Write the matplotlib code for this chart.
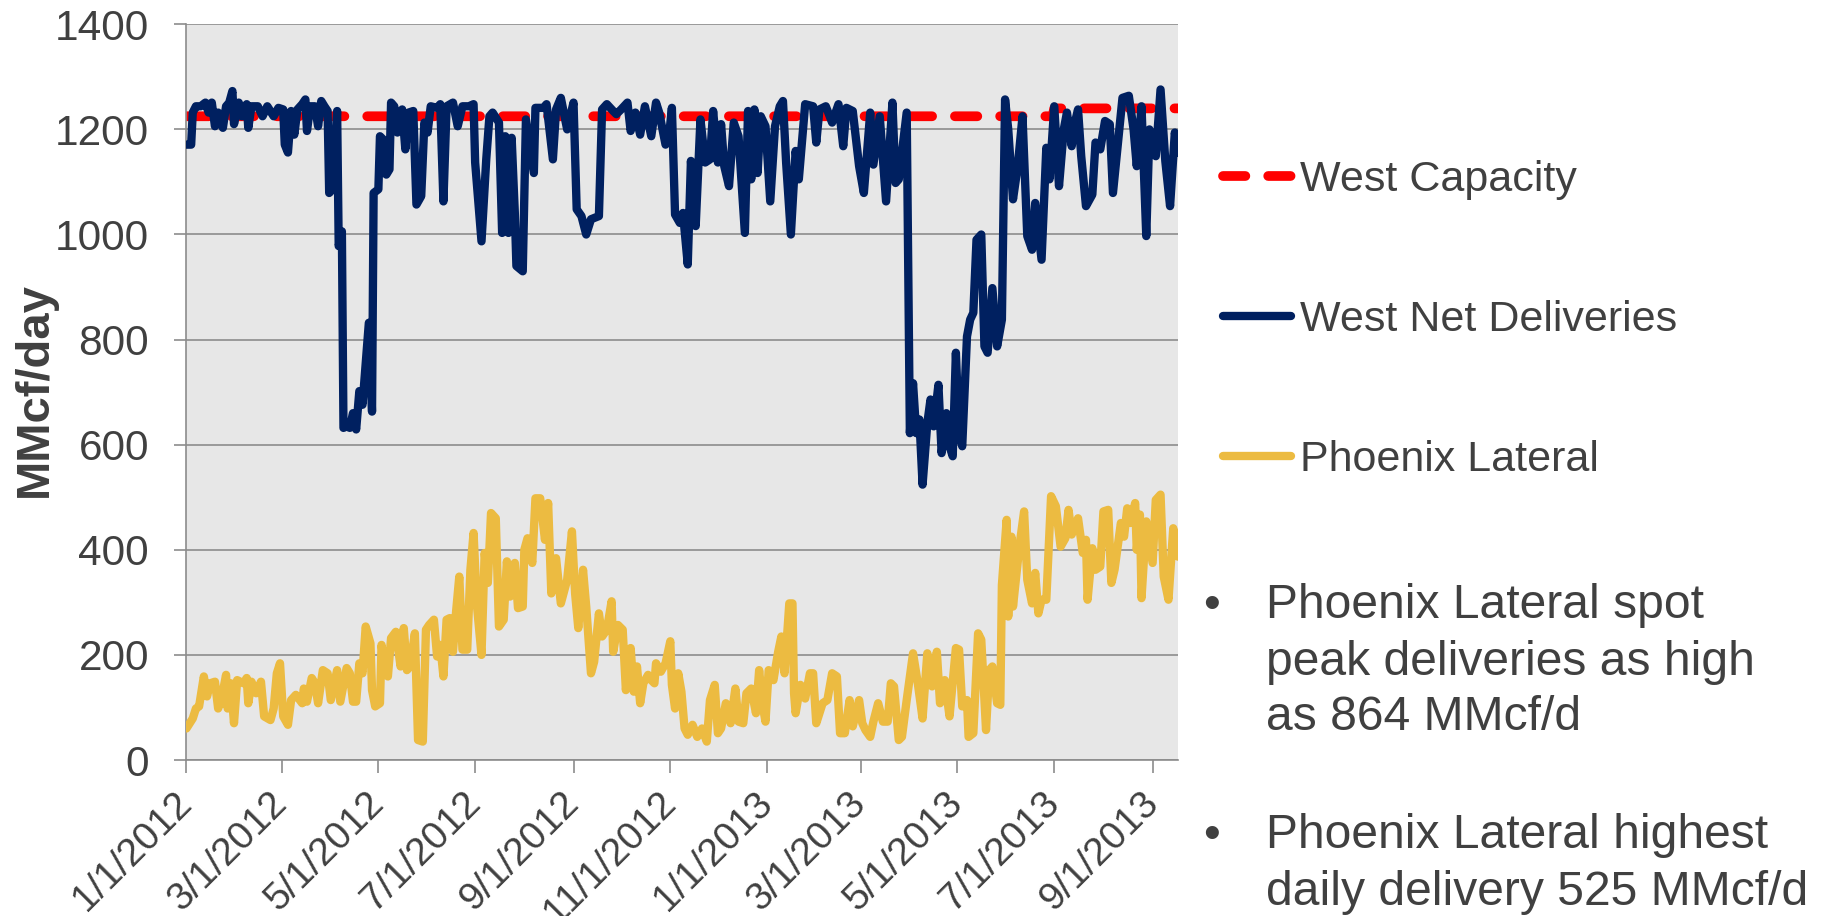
import matplotlib
matplotlib.use('Agg')
import matplotlib.pyplot as plt
import pandas as pd

plt.rcParams['font.family'] = ['Liberation Sans', 'DejaVu Sans']

START = '2012-01-01'

# West Net Deliveries (days since 1/1/2012, MMcf/day)
west_days = [0, 3, 4, 6, 9, 12, 14, 16, 18, 20, 23, 25, 27, 29, 30, 33, 35, 38, 39, 41, 45, 48, 51, 55, 58,
             61, 62, 64, 66, 68, 70, 73, 75, 76, 78, 81, 83, 85, 87, 89, 90, 92, 95, 96, 98, 99, 101, 103,
             105, 107, 109, 111, 115, 117, 118, 121, 122, 124, 126, 128, 129, 131, 133, 136, 138, 140, 143,
             145, 148, 150, 152, 154, 158, 160, 162, 164, 168, 171, 174, 178, 181, 182, 186, 189, 191, 193,
             197, 199, 201, 203, 205, 207, 208, 212, 214, 219, 220, 225, 227, 231, 233, 236, 240, 244, 246,
             249, 252, 255, 260, 262, 265, 269, 271, 274, 278, 280, 283, 286, 289, 293, 296, 298, 302, 304,
             306, 308, 311, 313, 316, 318, 321, 324, 327, 330, 332, 335, 337, 339, 342, 345, 348, 352, 354,
             356, 358, 360, 362, 365, 368, 371, 374, 376, 378, 381, 384, 386, 390, 395, 397, 399, 403, 407,
             411, 414, 416, 420, 424, 427, 431, 433, 437, 441, 445, 447, 449, 454, 456, 458, 460, 462, 464,
             467, 469, 471, 474, 476, 479, 481, 483, 485, 487, 489, 492, 494, 496, 498, 501, 503, 505, 508,
             511, 514, 516, 518, 521, 524, 527, 530, 533, 535, 539, 542, 544, 547, 550, 553, 555, 558, 560,
             562, 564, 567, 571, 573, 576, 579, 582, 584, 590, 594, 597, 599, 602, 604, 605, 607, 611, 614,
             617, 620, 623, 625]
west_vals = [1171, 1171, 1232, 1244, 1244, 1251, 1232, 1251, 1206, 1232, 1203, 1244, 1251, 1273, 1210, 1251,
             1225, 1248, 1203, 1244, 1244, 1225, 1244, 1225, 1241, 1238, 1171, 1156, 1235, 1190, 1238, 1248,
             1257, 1197, 1244, 1244, 1206, 1254, 1244, 1235, 1079, 1086, 1235, 978, 1006, 632, 635, 632, 660,
             629, 702, 676, 832, 663, 1079, 1086, 1187, 1181, 1114, 1124, 1251, 1244, 1194, 1238, 1162, 1232,
             1235, 1057, 1073, 1213, 1194, 1244, 1241, 1248, 1063, 1244, 1251, 1206, 1244, 1244, 1248, 1137,
             987, 1143, 1225, 1232, 1213, 1003, 1187, 1003, 1184, 1041, 940, 930, 1219, 1117, 1241, 1241,
             1248, 1143, 1238, 1260, 1200, 1251, 1048, 1035, 1000, 1029, 1035, 1238, 1248, 1235, 1229, 1238,
             1251, 1197, 1232, 1190, 1244, 1187, 1251, 1232, 1171, 1181, 1241, 1038, 1022, 1041, 943, 1140,
             1016, 1219, 1137, 1143, 1235, 1137, 1210, 1130, 1092, 1213, 1187, 1003, 1235, 1105, 1238, 1117,
             1225, 1206, 1063, 1206, 1244, 1254, 1137, 1000, 1159, 1105, 1248, 1244, 1175, 1238, 1244, 1213,
             1248, 1168, 1241, 1235, 1130, 1079, 1232, 1133, 1225, 1063, 1251, 1098, 1105, 1232, 622, 717,
             622, 648, 524, 641, 686, 635, 714, 584, 660, 597, 578, 775, 622, 597, 806, 838, 851, 990, 1000,
             787, 775, 898, 787, 838, 1257, 1200, 1067, 1130, 1225, 997, 971, 1060, 952, 1165, 1105, 1244,
             1092, 1200, 1232, 1168, 1213, 1238, 1149, 1054, 1076, 1175, 1162, 1216, 1210, 1079, 1260, 1264,
             1200, 1130, 1244, 1079, 997, 1200, 1149, 1276, 1140, 1054, 1194, 1156]

# Phoenix Lateral (days since 1/1/2012, MMcf/day)
phx_days = [0, 4, 6, 8, 11, 13, 15, 18, 20, 22, 25, 26, 28, 30, 32, 36, 38, 39, 41, 44, 47, 49, 53, 55, 57,
            59, 61, 64, 66, 69, 73, 74, 76, 79, 81, 83, 86, 89, 91, 95, 97, 99, 101, 103, 105, 107, 109, 111,
            113, 116, 117, 119, 122, 123, 125, 127, 129, 132, 135, 137, 139, 141, 144, 146, 149, 151, 153,
            156, 158, 160, 162, 164, 166, 168, 170, 172, 174, 177, 179, 181, 183, 186, 188, 190, 192, 195,
            197, 200, 202, 204, 207, 209, 212, 213, 215, 218, 220, 223, 226, 228, 230, 233, 236, 240, 243,
            245, 247, 250, 252, 255, 257, 260, 262, 265, 268, 269, 272, 275, 277, 280, 282, 284, 286, 288,
            291, 293, 295, 296, 299, 302, 305, 306, 308, 310, 312, 314, 316, 319, 322, 325, 328, 330, 333,
            335, 337, 340, 343, 346, 348, 351, 353, 356, 359, 361, 363, 365, 367, 370, 373, 375, 377, 380,
            382, 383, 384, 387, 390, 393, 395, 397, 401, 404, 407, 410, 412, 415, 418, 420, 424, 426, 428,
            431, 433, 436, 439, 442, 444, 446, 449, 451, 454, 458, 461, 464, 467, 470, 473, 475, 478, 481,
            485, 487, 489, 492, 493, 496, 499, 501, 504, 506, 508, 511, 513, 514, 517, 518, 520, 521, 525,
            528, 530, 533, 535, 537, 539, 542, 545, 548, 551, 554, 556, 558, 562, 565, 567, 568, 571, 573,
            576, 578, 581, 583, 585, 589, 591, 593, 595, 598, 599, 601, 602, 605, 609, 611, 614, 616, 619,
            622, 625]
phx_vals = [60, 79, 98, 102, 159, 121, 146, 149, 98, 114, 162, 98, 146, 70, 152, 146, 156, 108, 149, 127, 149,
            83, 76, 98, 165, 184, 83, 67, 114, 124, 108, 136, 111, 156, 146, 108, 171, 165, 114, 171, 111, 143,
            175, 165, 111, 111, 184, 165, 254, 222, 133, 102, 108, 219, 175, 159, 232, 244, 178, 251, 171, 178,
            241, 38, 35, 248, 257, 267, 197, 219, 159, 267, 270, 206, 283, 349, 210, 210, 362, 432, 298, 200,
            394, 337, 470, 460, 254, 267, 378, 311, 375, 289, 292, 400, 422, 375, 498, 498, 419, 489, 317, 384,
            298, 343, 435, 317, 251, 362, 292, 165, 187, 279, 235, 248, 302, 206, 257, 248, 133, 213, 130, 178,
            108, 146, 162, 152, 146, 184, 168, 184, 226, 143, 98, 165, 130, 60, 48, 67, 44, 60, 35, 114, 143,
            51, 60, 108, 70, 136, 73, 70, 127, 136, 89, 171, 108, 73, 171, 152, 206, 235, 165, 298, 298, 127,
            89, 143, 117, 165, 165, 70, 108, 114, 165, 159, 51, 51, 114, 64, 114, 70, 57, 44, 73, 108, 73, 73,
            146, 140, 38, 44, 114, 203, 146, 79, 203, 140, 206, 108, 152, 83, 213, 210, 102, 114, 44, 51, 241,
            229, 57, 171, 178, 108, 105, 333, 457, 273, 425, 292, 406, 473, 343, 298, 356, 279, 305, 305, 502,
            483, 406, 422, 476, 429, 460, 394, 419, 305, 403, 362, 368, 473, 476, 337, 362, 451, 425, 479, 451,
            489, 400, 467, 308, 454, 375, 495, 505, 349, 305, 441, 387]

# West Capacity
cap_days = [0, 546, 547, 625]
cap_vals = [1225, 1225, 1240, 1240]

tick_dates = ['2012-01-01', '2012-03-01', '2012-05-01', '2012-07-01', '2012-09-01', '2012-11-01',
              '2013-01-01', '2013-03-01', '2013-05-01', '2013-07-01', '2013-09-01']
tick_labels = ['1/1/2012', '3/1/2012', '5/1/2012', '7/1/2012', '9/1/2012', '11/1/2012',
               '1/1/2013', '3/1/2013', '5/1/2013', '7/1/2013', '9/1/2013']
y_ticks = [0, 200, 400, 600, 800, 1000, 1200, 1400]
series_names = ['West Capacity', 'West Net Deliveries', 'Phoenix Lateral']
bullet_lines = [['Phoenix Lateral spot', 'peak deliveries as high', 'as 864 MMcf/d'],
                ['Phoenix Lateral highest', 'daily delivery 525 MMcf/d']]

TXT = '#404040'
GRID = '#8C8C8C'


def to_dates(days):
    return pd.Timestamp(START) + pd.to_timedelta(days, unit='D')


fig = plt.figure(figsize=(18.21, 9.16), dpi=100)
ax = fig.add_axes([186.4 / 1821, 1 - 760 / 916, (1178 - 186.4) / 1821, (760 - 24.3) / 916])
ax.set_facecolor('#E7E7E7')

l_cap, = ax.plot(to_dates(cap_days), cap_vals, color='#FF0000', lw=7, dashes=(2.3, 2.35),
                 dash_capstyle='round', zorder=2)
l_west, = ax.plot(to_dates(west_days), west_vals, color='#002060', lw=6,
                  solid_joinstyle='round', solid_capstyle='round', zorder=3)
l_phx, = ax.plot(to_dates(phx_days), phx_vals, color='#ECBB41', lw=6,
                 solid_joinstyle='round', solid_capstyle='round', zorder=3)

ax.set_xlim(pd.Timestamp(START), to_dates(625))
ax.set_ylim(0, 1400)
ax.set_yticks(y_ticks)
ax.set_xticks(pd.to_datetime(tick_dates))
ax.set_xticklabels(tick_labels, rotation=45, ha='right', va='center', rotation_mode='anchor')
ax.tick_params(axis='both', direction='out', length=9, width=1.2, color=GRID, labelcolor=TXT)
ax.tick_params(axis='y', labelsize=30.5, pad=18)
ax.tick_params(axis='x', labelsize=28, pad=18)
ax.yaxis.grid(True, color=GRID, lw=1.2)
ax.set_axisbelow(True)
for s in ['top', 'right']:
    ax.spines[s].set_visible(False)
for s in ['left', 'bottom']:
    ax.spines[s].set_color(GRID)
    ax.spines[s].set_linewidth(1.2)

fig.text(35 / 1821, 1 - 390 / 916, 'MMcf/day', rotation=90, ha='center', va='center',
         fontsize=34, fontweight='bold', color=TXT)

fig.legend([l_cap, l_west, l_phx], series_names, loc='center left',
           bbox_to_anchor=(1223 / 1821, 1 - 320 / 916), frameon=False, fontsize=31,
           handlelength=1.57, handletextpad=0.23, labelspacing=2.33, borderpad=0,
           borderaxespad=0, labelcolor=TXT)

baselines = [[618, 675, 730], [848, 905]]
for lines, bls in zip(bullet_lines, baselines):
    fig.text(1203 / 1821, 1 - bls[0] / 916, '\u2022', fontsize=34.6, color=TXT, va='baseline')
    for line, b in zip(lines, bls):
        fig.text(1266 / 1821, 1 - b / 916, line, fontsize=34.6, color=TXT, va='baseline')

fig.savefig('out.png', dpi=100)
